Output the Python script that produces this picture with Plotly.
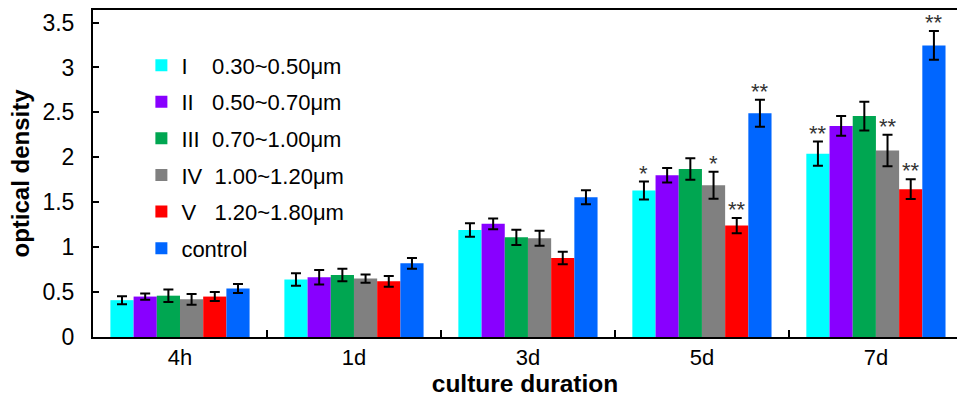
import plotly.graph_objects as go

categories = ["4h", "1d", "3d", "5d", "7d"]
series_names = ["I\u00a0\u00a0\u00a0\u00a00.30~0.50μm", "II\u00a0\u00a0\u00a00.50~0.70μm", "III\u00a0\u00a00.70~1.00μm",
                "IV\u00a0\u00a01.00~1.20μm", "V\u00a0\u00a0\u00a01.20~1.80μm", "control"]
colors = ["#00FFFF", "#8800FF", "#00A651", "#808080", "#FF0000", "#0066FF"]

vals_I = [0.41, 0.64, 1.19, 1.63, 2.04]
vals_II = [0.45, 0.665, 1.26, 1.80, 2.35]
vals_III = [0.46, 0.69, 1.11, 1.87, 2.46]
vals_IV = [0.42, 0.65, 1.10, 1.69, 2.075]
vals_V = [0.45, 0.62, 0.88, 1.24, 1.645]
vals_control = [0.54, 0.82, 1.555, 2.49, 3.245]

err_I = [0.045, 0.07, 0.075, 0.10, 0.135]
err_II = [0.035, 0.08, 0.06, 0.08, 0.11]
err_III = [0.07, 0.07, 0.085, 0.12, 0.16]
err_IV = [0.06, 0.045, 0.083, 0.15, 0.175]
err_V = [0.05, 0.06, 0.07, 0.085, 0.11]
err_control = [0.05, 0.06, 0.078, 0.15, 0.16]

# significance marks: (category index, series index, text)
marks = [(3, 0, "*"), (3, 3, "*"), (3, 4, "**"), (3, 5, "**"),
         (4, 0, "**"), (4, 3, "**"), (4, 4, "**"), (4, 5, "**")]

values = [vals_I, vals_II, vals_III, vals_IV, vals_V, vals_control]
errors = [err_I, err_II, err_III, err_IV, err_V, err_control]

FONT = "Liberation Sans, Arial, sans-serif"

fig = go.Figure()
for i, (name, col, v, e) in enumerate(zip(series_names, colors, values, errors)):
    fig.add_trace(go.Bar(
        x=categories, y=v, name=name, legendgroup=str(i),
        marker=dict(color=col, line=dict(width=0)),
        error_y=dict(type="data", array=e, color="black", thickness=2, width=5),
    ))

bargap = 0.2
nser = len(values)
bw = (1 - bargap) / nser
for ci, si, txt in marks:
    xpos = ci - (1 - bargap) / 2 + (si + 0.5) * bw
    fig.add_annotation(x=xpos, y=values[si][ci] + errors[si][ci], text=txt,
                       showarrow=False, yanchor="bottom", yshift=-6,
                       font=dict(size=22, color="#333333", family=FONT))

fig.update_layout(
    width=957, height=398,
    margin=dict(l=93, r=0, t=10, b=61),
    paper_bgcolor="white", plot_bgcolor="white",
    barmode="group", bargap=bargap, bargroupgap=0,
    font=dict(family=FONT, size=22, color="black"),
    legend=dict(x=0.056, y=0.895, xanchor="left", yanchor="top",
                bgcolor="rgba(0,0,0,0)", tracegroupgap=5, itemwidth=30,
                font=dict(size=22), traceorder="grouped"),
    showlegend=True,
)
fig.update_xaxes(range=[-0.5, 4.466], showline=True, linecolor="black", linewidth=2,
                 mirror=True, ticks="inside", tickson="boundaries", ticklen=7,
                 tickcolor="black", tickwidth=2,
                 title=dict(text="<b>culture duration</b>", font=dict(size=24.5), standoff=2),
                 tickfont=dict(size=22), showgrid=False)
fig.update_yaxes(range=[0, 3.64], dtick=0.5, showline=True, linecolor="black", linewidth=2,
                 mirror=False, ticks="inside", ticklen=6, tickcolor="black", tickwidth=2,
                 ticklabelstandoff=12,
                 title=dict(text="<b>optical density</b>", font=dict(size=24), standoff=6),
                 tickfont=dict(size=23), showgrid=False, zeroline=False)

fig.write_html("out.html", config={"displayModeBar": False},
               post_script="document.body.style.margin='0';document.body.style.overflow='hidden';")
